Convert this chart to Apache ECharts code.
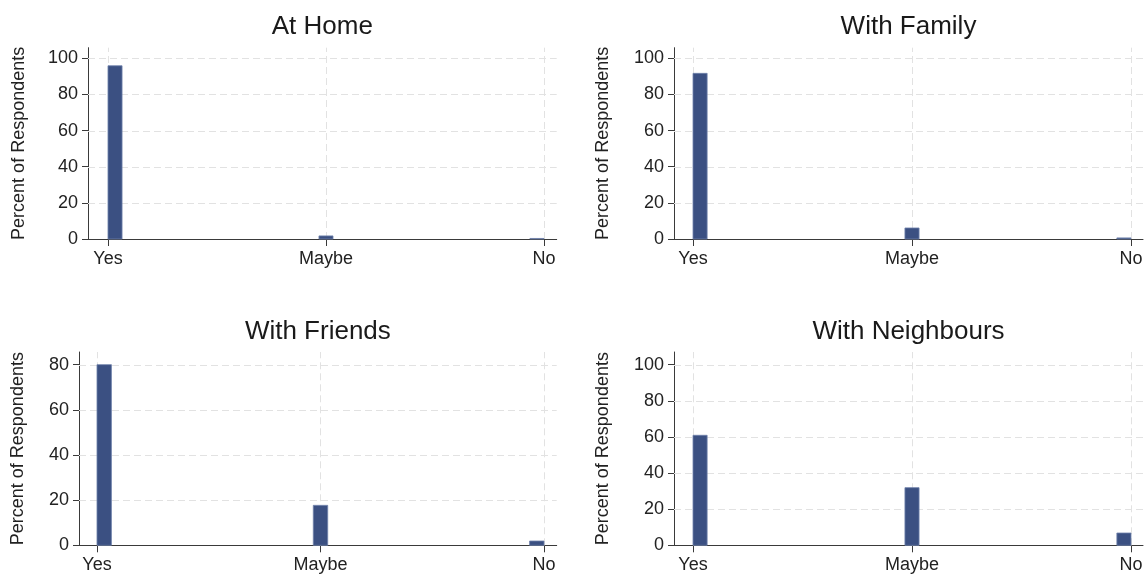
<!DOCTYPE html>
<html>
<head>
<meta charset="utf-8">
<script src="https://cdn.jsdelivr.net/npm/echarts@6/dist/echarts.min.js"></script>
<style>
html,body{margin:0;padding:0;background:#ffffff;}
#chart{width:1148px;height:574px;}
</style>
</head>
<body>
<div id="chart"></div>
<script>
// ---- data ----
const categories = ['Yes', 'Maybe', 'No'];
const categoryCodes = [1, 2, 3];
const panelTitles = ['At Home', 'With Family', 'With Friends', 'With Neighbours'];
const atHome = [95.9, 1.7, 0.3];
const withFamily = [91.7, 6.1, 0.6];
const withFriends = [80.0, 17.7, 1.9];
const withNeighbours = [60.9, 31.9, 6.8];
const yTicks100 = [0, 20, 40, 60, 80, 100];
const yTicks80 = [0, 20, 40, 60, 80];
const yAxisTitle = 'Percent of Respondents';
const binCount = 31;

// ---- layout / style ----
const FONT = '"Liberation Sans", Arial, Helvetica, sans-serif';
const TXT = '#222222';
const AXIS = '#3a3a3a';
const GRIDC = '#e2e2e2';
const BAR = '#3b5082';

const panels = [
  { title: panelTitles[0], values: atHome, ticks: yTicks100, yMax: 105.9,
    xMin: 0.9083, xMax: 3.0583, grid: { left: 88, top: 47.7, width: 468.7, height: 191.3 }, nameGap: 60, titleY: 27 },
  { title: panelTitles[1], values: withFamily, ticks: yTicks100, yMax: 105.9,
    xMin: 0.9132, xMax: 3.0548, grid: { left: 674, top: 47.7, width: 469, height: 191.3 }, nameGap: 61.5, titleY: 27 },
  { title: panelTitles[2], values: withFriends, ticks: yTicks80, yMax: 85.6,
    xMin: 0.9195, xMax: 3.0568, grid: { left: 79, top: 352, width: 477.7, height: 193.3 }, nameGap: 51.5, titleY: 331.5 },
  { title: panelTitles[3], values: withNeighbours, ticks: yTicks100, yMax: 107.0,
    xMin: 0.9132, xMax: 3.0548, grid: { left: 674, top: 352, width: 469, height: 193.3 }, nameGap: 61.5, titleY: 331.5 }
];

const grids = [], xAxes = [], yAxes = [], series = [], graphics = [];

panels.forEach((p, i) => {
  grids.push(Object.assign({ containLabel: false, outerBoundsMode: 'none' }, p.grid));

  xAxes.push({
    type: 'value', gridIndex: i, min: p.xMin, max: p.xMax,
    axisLine: { show: true, onZero: false, lineStyle: { color: AXIS, width: 1 } },
    axisTick: { show: true, length: 7, customValues: categoryCodes, lineStyle: { color: AXIS, width: 1 } },
    axisLabel: {
      customValues: categoryCodes, margin: 11, fontSize: 18, fontFamily: FONT, color: TXT,
      formatter: v => categories[Math.round(v) - 1]
    },
    splitLine: { show: false }
  });

  yAxes.push({
    type: 'value', gridIndex: i, min: 0, max: p.yMax,
    name: yAxisTitle, nameLocation: 'middle', nameGap: p.nameGap,
    nameTextStyle: { fontSize: 18, fontFamily: FONT, color: TXT },
    axisLine: { show: true, onZero: false, lineStyle: { color: AXIS, width: 1 } },
    axisTick: { show: true, length: 6, customValues: p.ticks, lineStyle: { color: AXIS, width: 1 } },
    axisLabel: { customValues: p.ticks, margin: 10, fontSize: 18, fontFamily: FONT, color: TXT },
    splitLine: { show: false }
  });

  // horizontal dashed gridlines
  series.push({
    type: 'custom', xAxisIndex: i, yAxisIndex: i, silent: true, clip: false, z: 1,
    data: p.ticks.filter(v => v > 0).map(v => [v]),
    renderItem: (params, api) => {
      const v = api.value(0);
      const a = api.coord([p.xMin, v]);
      const b = api.coord([p.xMax, v]);
      const y = Math.round(a[1]) + 0.5;
      return { type: 'line', shape: { x1: a[0], y1: y, x2: b[0], y2: y },
        style: { stroke: GRIDC, lineWidth: 1, lineDash: [7, 4] } };
    }
  });

  // vertical dashed gridlines at categories
  series.push({
    type: 'custom', xAxisIndex: i, yAxisIndex: i, silent: true, clip: false, z: 1,
    data: categoryCodes.map(c => [c]),
    renderItem: (params, api) => {
      const c = api.value(0);
      const a = api.coord([c, 0]);
      const b = api.coord([c, p.yMax]);
      const x = Math.round(a[0]) + 0.5;
      return { type: 'line', shape: { x1: x, y1: a[1], x2: x, y2: b[1] },
        style: { stroke: GRIDC, lineWidth: 1, lineDash: [7, 4] } };
    }
  });

  // histogram-like bars (31 bins over [1,3])
  series.push({
    type: 'custom', xAxisIndex: i, yAxisIndex: i, z: 3,
    data: categoryCodes.map((c, k) => [c, p.values[k]]),
    renderItem: (params, api) => {
      const x = api.value(0), v = api.value(1);
      const lo = categoryCodes[0], hi = categoryCodes[categoryCodes.length - 1];
      const w = (hi - lo) / binCount;
      let k = Math.floor((x - lo) / w + 1e-9);
      k = Math.min(Math.max(k, 0), binCount - 1);
      const x0 = lo + k * w, x1 = x0 + w;
      const tl = api.coord([x0, v]);
      const br = api.coord([x1, 0]);
      return { type: 'rect',
        shape: { x: tl[0], y: tl[1], width: br[0] - tl[0], height: br[1] - tl[1] },
        style: { fill: BAR, stroke: '#6f82ab', lineWidth: 0.8 } };
    }
  });

  graphics.push({
    type: 'text', x: p.grid.left + p.grid.width / 2, y: p.titleY, silent: true,
    style: { text: p.title, fontSize: 26, fontFamily: FONT, fill: '#1a1a1a', align: 'center', verticalAlign: 'middle' }
  });
});

const chart = echarts.init(document.getElementById('chart'), null, { renderer: 'canvas' });
chart.setOption({
  animation: false,
  backgroundColor: '#ffffff',
  grid: grids,
  xAxis: xAxes,
  yAxis: yAxes,
  series: series,
  graphic: graphics
});
</script>
</body>
</html>
